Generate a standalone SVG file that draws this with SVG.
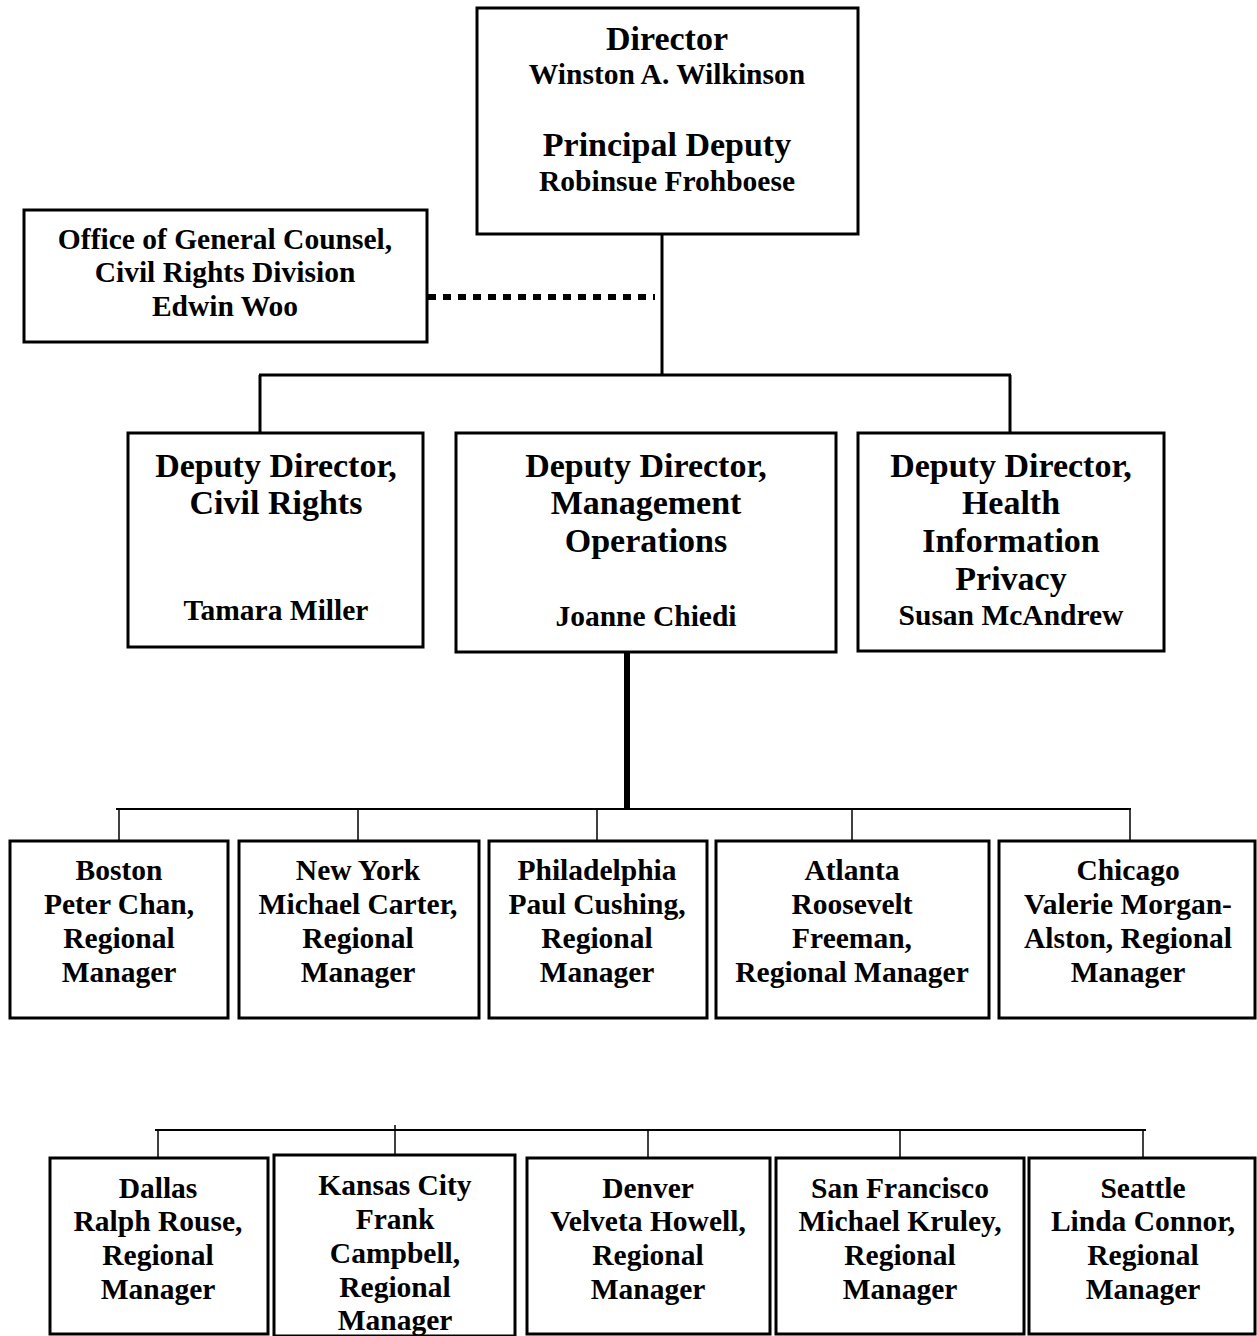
<svg xmlns="http://www.w3.org/2000/svg" width="1257" height="1336" viewBox="0 0 1257 1336">
<style>
  .box{fill:#fff;stroke:#000;stroke-width:3}
  .t{font-family:"Liberation Serif","Times New Roman",serif;font-weight:bold;fill:#000;text-anchor:middle}
  .big{font-size:34px}
  .sm{font-size:29.5px}
  .ln{stroke:#000;fill:none}
</style>
<rect width="1257" height="1336" fill="#fff"/>
<g id="connectors">
  <line class="ln" x1="662" y1="235" x2="662" y2="376" stroke-width="3"/>
  <line class="ln" x1="428" y1="297" x2="655" y2="297" stroke-width="6" stroke-dasharray="8 7"/>
  <line class="ln" x1="259" y1="375" x2="1011" y2="375" stroke-width="3"/>
  <line class="ln" x1="260" y1="375" x2="260" y2="433" stroke-width="3"/>
  <line class="ln" x1="1010" y1="375" x2="1010" y2="433" stroke-width="3"/>
  <line class="ln" x1="627" y1="653" x2="627" y2="809" stroke-width="6"/>
  <line class="ln" x1="116" y1="809" x2="1131" y2="809" stroke-width="2"/>
  <line class="ln" x1="119" y1="809" x2="119" y2="841" stroke-width="1.5"/>
  <line class="ln" x1="358" y1="809" x2="358" y2="841" stroke-width="1.5"/>
  <line class="ln" x1="597" y1="809" x2="597" y2="841" stroke-width="1.5"/>
  <line class="ln" x1="852" y1="809" x2="852" y2="841" stroke-width="1.5"/>
  <line class="ln" x1="1130" y1="809" x2="1130" y2="841" stroke-width="1.5"/>
  <line class="ln" x1="155" y1="1130" x2="1146" y2="1130" stroke-width="2"/>
  <line class="ln" x1="158" y1="1130" x2="158" y2="1158" stroke-width="1.5"/>
  <line class="ln" x1="395" y1="1125" x2="395" y2="1155" stroke-width="1.5"/>
  <line class="ln" x1="648" y1="1130" x2="648" y2="1158" stroke-width="1.5"/>
  <line class="ln" x1="900" y1="1130" x2="900" y2="1158" stroke-width="1.5"/>
  <line class="ln" x1="1143" y1="1130" x2="1143" y2="1158" stroke-width="1.5"/>
</g>
<g id="director">
  <rect class="box" x="477" y="8" width="381" height="226" stroke-width="3.5"/>
  <text class="t big" x="667" y="50">Director</text>
  <text class="t sm" x="667" y="84">Winston A. Wilkinson</text>
  <text class="t big" x="667" y="156">Principal Deputy</text>
  <text class="t sm" x="667" y="191">Robinsue Frohboese</text>
</g>
<g id="ogc">
  <rect class="box" x="24" y="210" width="403" height="132"/>
  <text class="t sm" x="225" y="249">Office of General Counsel,</text>
  <text class="t sm" x="225" y="282">Civil Rights Division</text>
  <text class="t sm" x="225" y="316">Edwin Woo</text>
</g>
<g id="dd-civil-rights">
  <rect class="box" x="128" y="433" width="295" height="214"/>
  <text class="t big" x="276" y="477">Deputy Director,</text>
  <text class="t big" x="276" y="514">Civil Rights</text>
  <text class="t sm" x="276" y="620">Tamara Miller</text>
</g>
<g id="dd-management">
  <rect class="box" x="456" y="433" width="380" height="219"/>
  <text class="t big" x="646" y="477">Deputy Director,</text>
  <text class="t big" x="646" y="514">Management</text>
  <text class="t big" x="646" y="552">Operations</text>
  <text class="t sm" x="646" y="626">Joanne Chiedi</text>
</g>
<g id="dd-hip">
  <rect class="box" x="858" y="433" width="306" height="218"/>
  <text class="t big" x="1011" y="477">Deputy Director,</text>
  <text class="t big" x="1011" y="514">Health</text>
  <text class="t big" x="1011" y="552">Information</text>
  <text class="t big" x="1011" y="590">Privacy</text>
  <text class="t sm" x="1011" y="625">Susan McAndrew</text>
</g>
<g id="boston">
  <rect class="box" x="10" y="841" width="218" height="177"/>
  <text class="t sm" x="119" y="880">Boston</text>
  <text class="t sm" x="119" y="914">Peter Chan,</text>
  <text class="t sm" x="119" y="948">Regional</text>
  <text class="t sm" x="119" y="982">Manager</text>
</g>
<g id="new-york">
  <rect class="box" x="239" y="841" width="240" height="177"/>
  <text class="t sm" x="358" y="880">New York</text>
  <text class="t sm" x="358" y="914">Michael Carter,</text>
  <text class="t sm" x="358" y="948">Regional</text>
  <text class="t sm" x="358" y="982">Manager</text>
</g>
<g id="philadelphia">
  <rect class="box" x="489" y="841" width="218" height="177"/>
  <text class="t sm" x="597" y="880">Philadelphia</text>
  <text class="t sm" x="597" y="914">Paul Cushing,</text>
  <text class="t sm" x="597" y="948">Regional</text>
  <text class="t sm" x="597" y="982">Manager</text>
</g>
<g id="atlanta">
  <rect class="box" x="716" y="841" width="273" height="177"/>
  <text class="t sm" x="852" y="880">Atlanta</text>
  <text class="t sm" x="852" y="914">Roosevelt</text>
  <text class="t sm" x="852" y="948">Freeman,</text>
  <text class="t sm" x="852" y="982">Regional Manager</text>
</g>
<g id="chicago">
  <rect class="box" x="999" y="841" width="256" height="177"/>
  <text class="t sm" x="1128" y="880">Chicago</text>
  <text class="t sm" x="1128" y="914">Valerie Morgan-</text>
  <text class="t sm" x="1128" y="948">Alston, Regional</text>
  <text class="t sm" x="1128" y="982">Manager</text>
</g>
<g id="dallas">
  <rect class="box" x="50" y="1158" width="218" height="176"/>
  <text class="t sm" x="158" y="1198">Dallas</text>
  <text class="t sm" x="158" y="1231">Ralph Rouse,</text>
  <text class="t sm" x="158" y="1265">Regional</text>
  <text class="t sm" x="158" y="1299">Manager</text>
</g>
<g id="kansas-city">
  <rect class="box" x="274" y="1155" width="241" height="181"/>
  <text class="t sm" x="395" y="1195">Kansas City</text>
  <text class="t sm" x="395" y="1229">Frank</text>
  <text class="t sm" x="395" y="1263">Campbell,</text>
  <text class="t sm" x="395" y="1297">Regional</text>
  <text class="t sm" x="395" y="1330">Manager</text>
</g>
<g id="denver">
  <rect class="box" x="527" y="1158" width="243" height="176"/>
  <text class="t sm" x="648" y="1198">Denver</text>
  <text class="t sm" x="648" y="1231">Velveta Howell,</text>
  <text class="t sm" x="648" y="1265">Regional</text>
  <text class="t sm" x="648" y="1299">Manager</text>
</g>
<g id="san-francisco">
  <rect class="box" x="776" y="1158" width="248" height="176"/>
  <text class="t sm" x="900" y="1198">San Francisco</text>
  <text class="t sm" x="900" y="1231">Michael Kruley,</text>
  <text class="t sm" x="900" y="1265">Regional</text>
  <text class="t sm" x="900" y="1299">Manager</text>
</g>
<g id="seattle">
  <rect class="box" x="1029" y="1158" width="226" height="176"/>
  <text class="t sm" x="1143" y="1198">Seattle</text>
  <text class="t sm" x="1143" y="1231">Linda Connor,</text>
  <text class="t sm" x="1143" y="1265">Regional</text>
  <text class="t sm" x="1143" y="1299">Manager</text>
</g>
</svg>
